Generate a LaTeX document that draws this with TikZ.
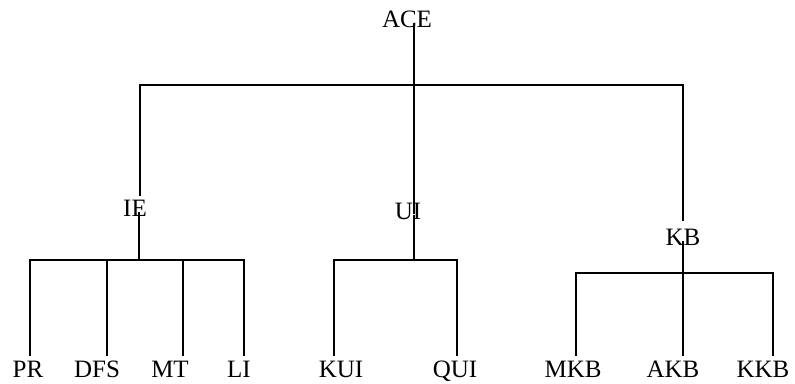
\documentclass[tikz,border=0pt]{standalone}
\usepackage{fontspec}
\setmainfont{Liberation Serif}
\begin{document}
\begin{tikzpicture}[x=1pt,y=-1pt,
  lbl/.style={inner sep=0pt, text height=0.662em, text depth=0pt, anchor=center, font=\fontsize{25}{30}\selectfont},
  wire/.style={line width=2.3pt, line cap=rect}]
\useasboundingbox (0,0) rectangle (795,383);
% nodes
\node[lbl] (ACE) at (407,24) {ACE};
\node[lbl] (IE)  at (135,213) {IE};
\node[lbl] (UI)  at (408,216) {UI};
\node[lbl] (KB)  at (683,242) {KB};
\node[lbl] (PR)  at (28,374) {PR};
\node[lbl] (DFS) at (97,374) {DFS};
\node[lbl] (MT)  at (170,374) {MT};
\node[lbl] (LI)  at (239,374) {LI};
\node[lbl] (KUI) at (341,374) {KUI};
\node[lbl] (QUI) at (455,374) {QUI};
\node[lbl] (MKB) at (573,374) {MKB};
\node[lbl] (AKB) at (673,374) {AKB};
\node[lbl] (KKB) at (763,374) {KKB};
% junctions
\coordinate (top) at (414,85);
\coordinate (ieb) at (139,260);
\coordinate (uib) at (414,260);
\coordinate (kbb) at (683,273);
% top level
\draw[wire] ([xshift=7pt,yshift=3pt]ACE.south) -- ([xshift=6pt]UI.north);
\draw[wire] ([xshift=5pt,yshift=15pt]IE.north) |- (top) -| ([yshift=19pt]KB.north);
% IE subtree
\draw[wire] ([xshift=4pt,yshift=3pt]IE.south) -- (ieb);
\draw[wire] ([xshift=2pt,yshift=16pt]PR.north) |- (ieb) -| ([xshift=5pt,yshift=16pt]LI.north);
\draw[wire] ([xshift=10pt,yshift=16pt]DFS.north) -- ([xshift=10pt]DFS.north |- ieb);
\draw[wire] ([xshift=13pt,yshift=16pt]MT.north) -- ([xshift=13pt]MT.north |- ieb);
% UI subtree
\draw[wire] ([xshift=6pt,yshift=3pt]UI.south) -- (uib);
\draw[wire] ([xshift=-7pt,yshift=16pt]KUI.north) |- (uib) -| ([xshift=2pt,yshift=16pt]QUI.north);
% KB subtree
\draw[wire] ([yshift=3pt]KB.south) -- (kbb);
\draw[wire] ([xshift=3pt,yshift=16pt]MKB.north) |- (kbb) -| ([xshift=10pt,yshift=16pt]KKB.north);
\draw[wire] ([xshift=10pt,yshift=16pt]AKB.north) -- (kbb);
\end{tikzpicture}
\end{document}
